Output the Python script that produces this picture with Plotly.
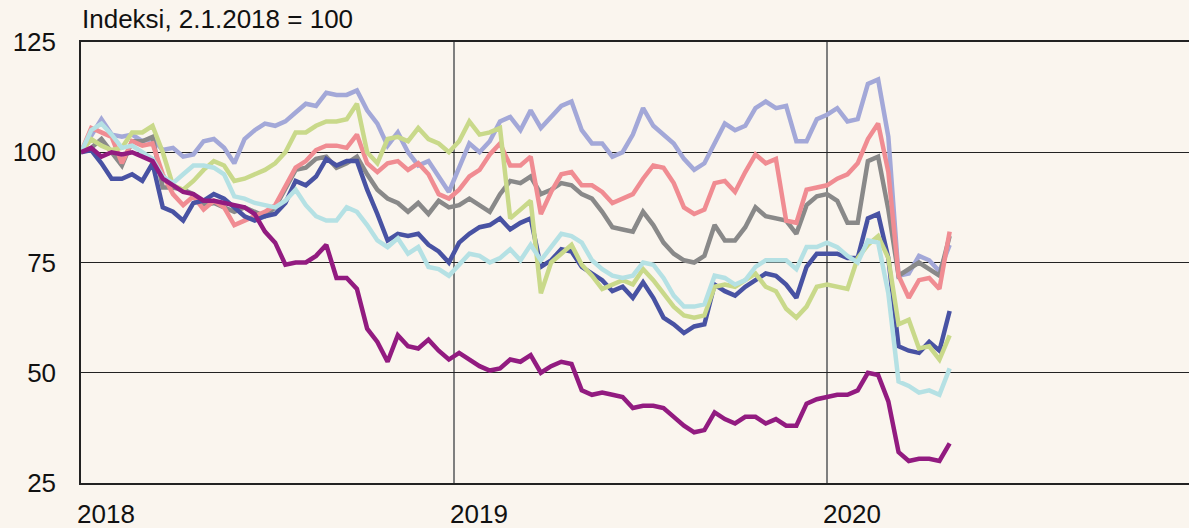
import pandas as pd
import plotly.graph_objects as go

# sample dates every 10 days, 2.1.2018 -> end of April 2020
dates = pd.date_range("2018-01-01", periods=86, freq="10D")

lilac = [100, 104, 107.5, 104, 103.5, 104, 102.5, 103, 100.5, 101, 99, 99.5, 102.5, 103, 101, 97.5,
         103, 105, 106.5, 106, 107, 109, 111, 110.5, 113.5, 113, 113, 114, 109.5, 106.5, 101.5, 104.5,
         100, 97, 98, 94.5, 91, 96.5, 102, 100, 102.5, 107, 108, 105, 109.5, 105.5, 108, 110.5,
         111.5, 105, 102, 102, 99, 100, 104, 110, 106, 104, 102, 98.5, 96, 97.5, 102, 106.5,
         105, 106, 110, 111.5, 110, 110.5, 102.5, 102.5, 107.5, 108.5, 110, 107, 107.5, 115.5,
         116.5, 103.5, 72, 72.5, 76.5, 75.5, 73, 79]

salmon = [100, 105.5, 104.5, 103.5, 97.5, 102.5, 101.5, 102, 95, 90.5, 88, 90, 87, 89, 87.5, 83.5,
          84.5, 85.5, 86.5, 88, 92, 96.5, 98, 100.5, 101.5, 101.5, 101, 104, 97.5, 95.5, 97.5, 98,
          96, 97.5, 95, 90.5, 89.5, 91.5, 94.5, 96, 99.5, 102, 97, 97, 99, 86, 91, 95,
          95.5, 92.5, 92.5, 91, 88.5, 89.5, 90.5, 94, 97, 96.5, 93, 87.5, 86, 87, 93, 93.5,
          91, 95.5, 99.5, 97.5, 98.5, 84.5, 84, 91.5, 92, 92.5, 94, 95, 97.5, 103,
          106.5, 95.5, 72, 67, 71, 71.5, 69, 82]

grey = [100, 101, 103, 100, 97, 102.5, 102.5, 103.5, 92, 92, 91.5, 90.5, 88, 88.5, 87.5, 86.5,
        87.5, 86.5, 85.5, 87.5, 92, 96, 96.5, 98.5, 99, 96.5, 97.5, 99, 95, 91.5, 89.5, 88.5,
        86.5, 88.5, 86, 89, 87.5, 88, 89.5, 88, 86.5, 90.5, 93.5, 93, 94.5, 90.5, 91.5, 93,
        92.5, 90.5, 89.5, 86.5, 83, 82.5, 82, 86.5, 83.5, 79.5, 77, 75.5, 75, 76.5, 83.5, 80,
        80, 83, 87.5, 85.5, 85, 84.5, 81.5, 88, 90, 90.5, 89, 84, 84, 98,
        99, 87, 72, 73.5, 75, 73.5, 72, 81]

green = [100, 103, 101.5, 100.5, 101, 104.5, 104.5, 106, 100, 92.5, 91.5, 93.5, 96, 98, 97, 93.5,
         94, 95, 96, 97.5, 100, 104.5, 104.5, 106, 107, 107, 107.5, 111, 100, 97.5, 103, 103.5,
         102.5, 105.5, 103, 102, 100, 102.5, 107, 104, 104.5, 105.5, 85, 87, 89, 68, 75, 77,
         79, 74.5, 72, 69, 70, 71, 70, 73.5, 71, 68, 65, 63, 62.5, 63, 69.5, 70,
         69.5, 71, 72.5, 69.5, 68.5, 64.5, 62.5, 65, 69.5, 70, 69.5, 69, 76, 79,
         81, 76, 61, 62, 55.5, 56, 53, 58.5]

navy = [100, 100.5, 97.5, 94, 94, 95, 93.5, 97.5, 87.5, 86.5, 84.5, 88.5, 89, 90.5, 89.5, 87.5,
        85.5, 84.5, 85.5, 86, 88.5, 93.5, 92.5, 94.5, 98.5, 97, 98, 98, 91.5, 86, 80, 81.5,
        81, 81.5, 79, 77.5, 75, 79.5, 81.5, 83, 83.5, 85, 82.5, 84, 85, 74, 75.5, 78,
        77.5, 74, 72.5, 71, 68.5, 69.5, 67, 70.5, 67, 62.5, 61, 59, 60.5, 61, 70, 68.5,
        67.5, 69.5, 71, 72.5, 72, 70, 67, 74, 77, 77, 77, 76, 76, 85,
        86, 76, 56, 55, 54.5, 57, 55, 64]

cyan = [100, 105, 106.5, 104, 101, 101.5, 100, 98.5, 94.5, 93, 95, 97, 97, 96.5, 95, 90,
        89.5, 88.5, 88, 87.5, 89, 91.5, 88, 85.5, 84.5, 84.5, 87.5, 86.5, 83.5, 80, 78.5, 80.5,
        77, 78.5, 74, 73.5, 72, 74.5, 77, 76.5, 75, 76, 78, 75.5, 79, 75.5, 78.5, 81.5,
        81, 79.5, 75.5, 73.5, 72, 71.5, 72, 75, 74.5, 71.5, 67.5, 65, 65, 65.5, 72, 71.5,
        70, 71, 74, 75.5, 75.5, 75.5, 73.5, 78.5, 78.5, 79.5, 78.5, 76.5, 75, 80,
        79.5, 68, 48, 47, 45.5, 46, 45, 51]

plum = [100, 101, 99, 100, 99.5, 100, 99, 98, 94, 92.5, 91, 90.5, 89, 89, 88.5, 88,
        87.5, 86, 82, 79.5, 74.5, 75, 75, 76.5, 79, 71.5, 71.5, 69, 60, 57, 52.5, 58.5,
        56, 55.5, 57.5, 55, 53, 54.5, 53, 51.5, 50.5, 51, 53, 52.5, 54, 50, 51.5, 52.5,
        52, 46, 45, 45.5, 45, 44.5, 42, 42.5, 42.5, 42, 40, 38, 36.5, 37, 41, 39.5,
        38.5, 40, 40, 38.5, 39.5, 38, 38, 43, 44, 44.5, 45, 45, 46, 50,
        49.5, 43.5, 32, 30, 30.5, 30.5, 30, 34]

series = [
    (lilac, "#A3A8D8"),
    (grey, "#898989"),
    (salmon, "#F08C92"),
    (navy, "#4852A3"),
    (green, "#C9D98A"),
    (cyan, "#B5E1E4"),
    (plum, "#921B80"),
]

fig = go.Figure()
for vals, col in series:
    fig.add_trace(go.Scatter(x=dates, y=vals, mode="lines",
                             line=dict(color=col, width=4.5), showlegend=False))

fig.add_annotation(text="Indeksi, 2.1.2018 = 100", xref="paper", yref="paper",
                   x=0, y=1.052, xanchor="left", yanchor="middle", showarrow=False,
                   font=dict(size=26, color="#111111"), borderpad=0)

fig.update_layout(
    width=1189, height=528,
    margin=dict(l=81, r=0, t=42, b=45),
    paper_bgcolor="#FAF5EE", plot_bgcolor="#FAF5EE",
    font=dict(family="Liberation Sans, Arial, sans-serif", size=26, color="#111111"),
)
fig.update_xaxes(
    range=["2018-01-01", "2020-12-20 05:00"],
    tickvals=["2018-01-01", "2019-01-01", "2020-01-01"],
    ticktext=["2018", "2019", "2020"],
    showgrid=True, gridcolor="#7f7f7f", gridwidth=2,
    showline=True, linecolor="#222222", linewidth=1.5, mirror=True,
    ticks="", ticklabelshift=25, ticklabelstandoff=7, zeroline=False,
    automargin=False,
)
fig.update_yaxes(
    range=[25, 125],
    tickvals=[25, 50, 75, 100, 125],
    showgrid=True, gridcolor="#222222", gridwidth=1.2,
    showline=True, linecolor="#222222", linewidth=1.5,
    ticks="", ticklabelstandoff=18, zeroline=False,
    automargin=False,
)

# drop the page's default body margin so the figure sits at the window corner
fig.write_html("out.html", config={"displayModeBar": False},
               post_script="document.body.style.margin='0';document.body.style.background='#FAF5EE';")
